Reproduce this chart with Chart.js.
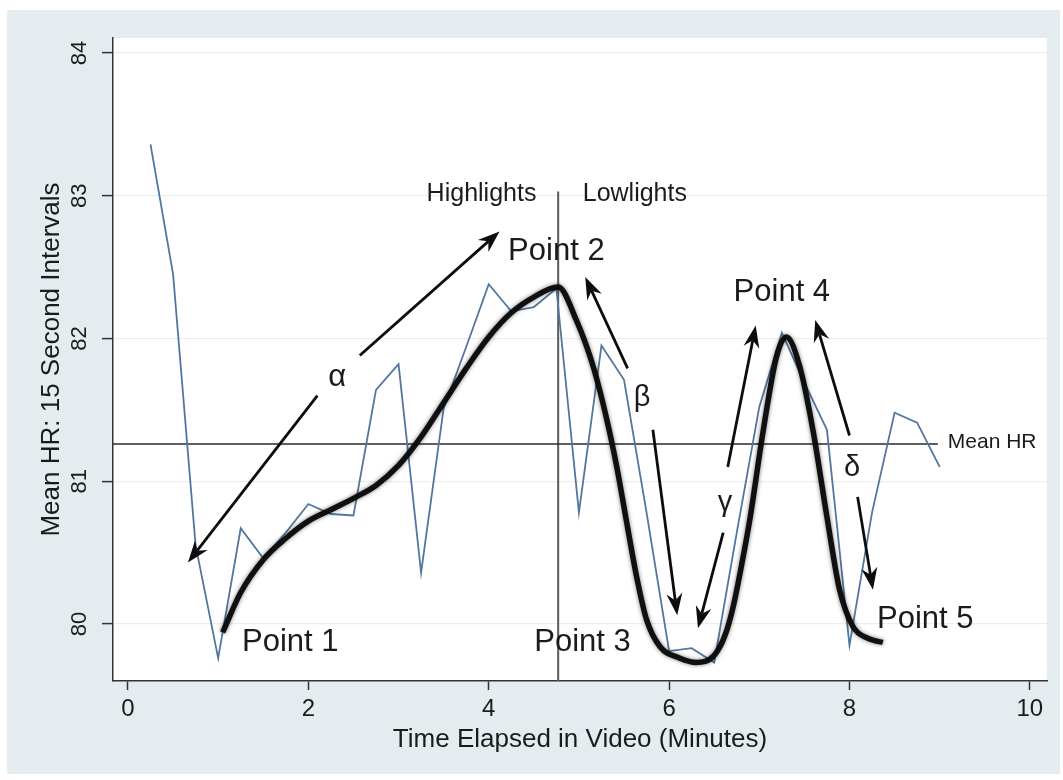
<!DOCTYPE html>
<html>
<head>
<meta charset="utf-8">
<title>Mean HR: 15 Second Intervals</title>
<script src="https://cdn.jsdelivr.net/npm/chart.js@4.4.1/dist/chart.umd.min.js"></script>
<style>
    html, body { margin: 0; padding: 0; background: #fff; overflow: hidden; }
    .frame { position: absolute; left: 7px; top: 10px; width: 1053px; height: 764px; background: #e4ecef; }
    .holder { position: absolute; left: 0; top: 0; width: 1063px; height: 780px; }
</style>
</head>
<body>
<div class="frame"></div>
<div class="holder"><canvas id="hrChart" width="1063" height="780"></canvas></div>
<script>
// 15 second means
const MINUTES = [0.25, 0.5, 0.75, 1.0, 1.25, 1.5, 1.75, 2.0, 2.25, 2.5, 2.75, 3.0,
    3.25, 3.5, 3.75, 4.0, 4.25, 4.5, 4.75, 5.0, 5.25, 5.5, 5.75, 6.0,
    6.25, 6.5, 6.75, 7.0, 7.25, 7.5, 7.75, 8.0, 8.25, 8.5, 8.75, 9.0];
const MEAN_HR_15S = [83.36, 82.45, 80.55, 79.76, 80.67, 80.46, 80.64, 80.84, 80.77, 80.76, 81.64, 81.82,
    80.36, 81.51, 81.94, 82.38, 82.19, 82.22, 82.35, 80.78, 81.95, 81.71, 80.78, 79.81,
    79.83, 79.73, 80.64, 81.52, 82.04, 81.69, 81.36, 79.85, 80.78, 81.48, 81.41, 81.10];

// fitted curve (thick black)
const FIT_MINUTES = [1.05, 1.25, 1.5, 1.75, 2.0, 2.25, 2.5, 2.75, 3.0, 3.25, 3.5, 3.75,
    4.0, 4.25, 4.5, 4.77, 4.97, 5.16, 5.31, 5.42, 5.53, 5.64, 5.75, 5.9,
    6.12, 6.3, 6.5, 6.62, 6.71, 6.8, 6.9, 7.04, 7.19, 7.3, 7.45, 7.6,
    7.75, 7.89, 8.04, 8.2, 8.37];
const FIT_HR = [79.94, 80.22, 80.45, 80.60, 80.72, 80.80, 80.88, 80.97, 81.11, 81.31, 81.55, 81.79,
    82.01, 82.18, 82.29, 82.36, 82.13, 81.80, 81.43, 81.10, 80.71, 80.33, 80.03, 79.84,
    79.76, 79.73, 79.78, 79.92, 80.12, 80.40, 80.75, 81.34, 81.87, 82.01, 81.80, 81.34,
    80.75, 80.24, 79.98, 79.90, 79.87];

const MEAN_HR = 81.26;
const MEAN_LINE_END = 8.98;
const SPLIT_MINUTE = 4.77;
const SPLIT_TOP = 83.03;

const X_TICKS = [0, 2, 4, 6, 8, 10];
const Y_TICKS = [80, 81, 82, 83, 84];
const X_TITLE = "Time Elapsed in Video (Minutes)";
const Y_TITLE = "Mean HR: 15 Second Intervals";

const X_RANGE = [-0.166, 10.19];
const Y_RANGE = [79.60, 84.105];

const FONT_FAMILY = "'Liberation Sans', Arial, Helvetica, sans-serif";
const INK = "#1b1b1b";
const BLUE = "#52779f";

// arrows: [fromX, fromY, toX, toY] in minutes / bpm
const ARROWS = [
    [2.57, 81.88, 4.12, 82.75],
    [2.10, 81.60, 0.665, 80.43],
    [5.54, 81.79, 5.07, 82.43],
    [5.82, 81.36, 6.09, 80.06],
    [6.60, 80.64, 6.32, 79.97],
    [6.65, 81.10, 6.96, 82.09],
    [8.00, 81.32, 7.62, 82.13],
    [8.09, 80.89, 8.26, 80.24],
];

// [text, x, y, size, align]
const LABELS = [
    ["Point 1", 1.80, 79.87, 31, "center"],
    ["Point 2", 4.75, 82.61, 31, "center"],
    ["Point 3", 5.04, 79.87, 31, "center"],
    ["Point 4", 7.25, 82.32, 31, "center"],
    ["Point 5", 8.84, 80.03, 31, "center"],
    ["α", 2.32, 81.73, 31, "center"],
    ["β", 5.70, 81.58, 29, "center"],
    ["γ", 6.62, 80.85, 29, "center"],
    ["δ", 8.03, 81.09, 29, "center"],
    ["Highlights", 3.92, 83.01, 25, "center"],
    ["Lowlights", 5.62, 83.01, 25, "center"],
    ["Mean HR", 9.09, 81.27, 21, "left"],
];

class HeartRateChart {

    constructor(canvasId) {
        this.ctx = document.getElementById(canvasId).getContext("2d");
        this.chart = null;
    }

    initialize() {
        this.chart = new Chart(this.ctx, {
            type: "line",
            data: {datasets: this.#buildDatasets()},
            options: this.#buildOptions(),
            plugins: [this.#annotationPlugin()],
        });
    }

    #buildDatasets() {
        const base = {pointRadius: 0, fill: false, parsing: false};
        return [
            {
                ...base,
                label: "Fitted",
                order: 0,
                data: FIT_MINUTES.map((m, i) => ({x: m, y: FIT_HR[i]})),
                borderColor: "rgba(8,8,8,0.95)",
                borderWidth: 5.5,
                cubicInterpolationMode: "monotone",
            },
            {
                ...base,
                label: "Mean HR 15s",
                order: 1,
                data: MINUTES.map((m, i) => ({x: m, y: MEAN_HR_15S[i]})),
                borderColor: BLUE,
                borderWidth: 1.8,
                tension: 0,
            },
            {
                ...base,
                label: "Mean HR",
                order: 2,
                data: [{x: X_RANGE[0], y: MEAN_HR}, {x: MEAN_LINE_END, y: MEAN_HR}],
                borderColor: "#2a2a2a",
                borderWidth: 1.6,
            },
            {
                ...base,
                label: "Split",
                order: 3,
                data: [{x: SPLIT_MINUTE, y: Y_RANGE[0]}, {x: SPLIT_MINUTE, y: SPLIT_TOP}],
                borderColor: "#5a5a5a",
                borderWidth: 2,
            },
        ];
    }

    #buildOptions() {
        const titleFont = {family: FONT_FAMILY, size: 26};
        return {
            responsive: false,
            animation: false,
            events: [],
            layout: {padding: {top: 38, right: 16, left: 0, bottom: 0}},
            plugins: {legend: {display: false}, tooltip: {enabled: false}},
            scales: {
                x: {
                    type: "linear",
                    min: X_RANGE[0],
                    max: X_RANGE[1],
                    afterBuildTicks: (scale) => {
                        scale.ticks = X_TICKS.map(v => ({value: v}));
                    },
                    afterFit: (scale) => {
                        scale.height = 99;
                    },
                    ticks: {
                        autoSkip: false,
                        maxRotation: 0,
                        padding: 5,
                        color: INK,
                        font: {family: FONT_FAMILY, size: 24},
                        callback: (v) => String(v),
                    },
                    grid: {
                        drawOnChartArea: false,
                        drawTicks: true,
                        tickLength: 9,
                        tickColor: "#333",
                        tickWidth: 1.5,
                    },
                    border: {display: true, color: "#333", width: 1.5},
                    title: {
                        display: true,
                        text: X_TITLE,
                        color: INK,
                        font: titleFont,
                        padding: {top: 25, bottom: 25},
                    },
                },
                y: {
                    type: "linear",
                    min: Y_RANGE[0],
                    max: Y_RANGE[1],
                    afterBuildTicks: (scale) => {
                        scale.ticks = Y_TICKS.map(v => ({value: v}));
                    },
                    afterFit: (scale) => {
                        scale.width = 113;
                    },
                    ticks: {
                        minRotation: 90,
                        maxRotation: 90,
                        crossAlign: "center",
                        padding: 10,
                        color: INK,
                        font: {family: FONT_FAMILY, size: 22},
                        callback: (v) => String(v),
                    },
                    grid: {
                        color: "#e9eeee",
                        lineWidth: 1.2,
                        drawTicks: true,
                        tickLength: 11,
                        tickColor: "#333",
                        tickWidth: 1.5,
                    },
                    border: {display: true, color: "#333", width: 1.5},
                    title: {
                        display: true,
                        text: Y_TITLE,
                        color: INK,
                        font: titleFont,
                        padding: {top: 36, bottom: 36},
                    },
                },
            },
        };
    }

    #annotationPlugin() {
        return {
            id: "hrAnnotations",
            beforeDraw: (chart) => {
                const {ctx, chartArea} = chart;
                ctx.save();
                ctx.fillStyle = "#ffffff";
                ctx.fillRect(chartArea.left, chartArea.top,
                    chartArea.right - chartArea.left, chartArea.bottom - chartArea.top);
                ctx.restore();
            },
            beforeDatasetDraw: (chart, args) => {
                if (args.index === 0) {
                    chart.ctx.save();
                    chart.ctx.shadowColor = "rgba(0,0,0,0.55)";
                    chart.ctx.shadowBlur = 4;
                }
            },
            afterDatasetDraw: (chart, args) => {
                if (args.index === 0) {
                    chart.ctx.restore();
                }
            },
            afterDatasetsDraw: (chart) => {
                const xs = chart.scales.x;
                const ys = chart.scales.y;
                const ctx = chart.ctx;

                ARROWS.forEach(a => {
                    this.#drawArrow(ctx,
                        xs.getPixelForValue(a[0]), ys.getPixelForValue(a[1]),
                        xs.getPixelForValue(a[2]), ys.getPixelForValue(a[3]));
                });

                ctx.save();
                ctx.fillStyle = INK;
                ctx.textBaseline = "middle";
                LABELS.forEach(l => {
                    ctx.font = l[3] + "px " + FONT_FAMILY;
                    ctx.textAlign = l[4];
                    ctx.fillText(l[0], xs.getPixelForValue(l[1]), ys.getPixelForValue(l[2]));
                });
                ctx.restore();
            },
        };
    }

    #drawArrow(ctx, x0, y0, x1, y1) {
        const ang = Math.atan2(y1 - y0, x1 - x0);
        const len = 22;
        const half = 8;
        const notch = 15;

        ctx.save();
        ctx.strokeStyle = "#0d0d0d";
        ctx.fillStyle = "#0d0d0d";
        ctx.lineWidth = 2.8;
        ctx.lineCap = "butt";
        ctx.beginPath();
        ctx.moveTo(x0, y0);
        ctx.lineTo(x1 - Math.cos(ang) * notch, y1 - Math.sin(ang) * notch);
        ctx.stroke();

        ctx.translate(x1, y1);
        ctx.rotate(ang);
        ctx.beginPath();
        ctx.moveTo(0, 0);
        ctx.lineTo(-len, -half);
        ctx.lineTo(-notch, 0);
        ctx.lineTo(-len, half);
        ctx.closePath();
        ctx.fill();
        ctx.restore();
    }
}

new HeartRateChart("hrChart").initialize();
</script>
</body>
</html>
